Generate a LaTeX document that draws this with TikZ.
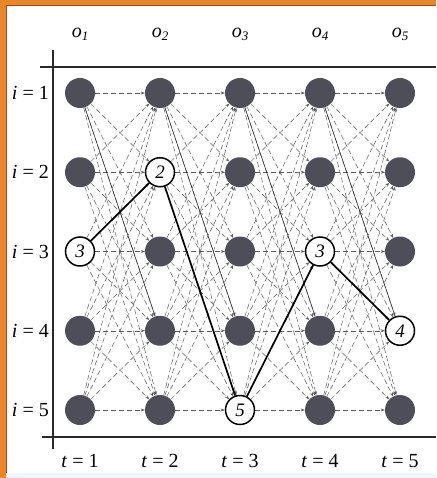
\documentclass[tikz,border=0pt]{standalone}
\usepackage{fontspec}
\setmainfont{Liberation Serif}
\usetikzlibrary{arrows.meta,backgrounds}
\definecolor{dotgray}{HTML}{4E4E58}
\definecolor{edgeorange}{HTML}{E8872A}
\definecolor{edgered}{HTML}{A8431E}
\definecolor{transgray}{HTML}{5A5A5A}
\definecolor{axisgray}{HTML}{2A2A2A}
\begin{document}
\begin{tikzpicture}[x=1pt,y=-1pt,
  state/.style={circle,minimum size=30pt,inner sep=0pt,fill=dotgray},
  pathstate/.style={circle,minimum size=29pt,inner sep=0pt,fill=white,draw=black,line width=1.5pt,font=\fontsize{19}{19}\selectfont\itshape},
  trans/.style={draw=transgray,line width=0.5pt,dash pattern=on 5pt off 3pt,-{Stealth[length=4pt,width=3pt]}},
  thinsolid/.style={draw=axisgray,line width=0.55pt},
  thickpath/.style={draw=black,line width=1.7pt},
  axis/.style={draw=axisgray,line width=1.1pt},
  lab/.style={font=\fontsize{20}{20}\selectfont,inner sep=0pt}]
\useasboundingbox (0,0) rectangle (436,478);
% states
\foreach \t/\p in {1/3,2/2,3/5,4/3,5/4}{
  \foreach \i in {1,...,5}{
    \ifnum\i=\p
      \node[pathstate] (n\t\i) at (80*\t,{93+79.25*(\i-1)}) {\p};
    \else
      \node[state] (n\t\i) at (80*\t,{93+79.25*(\i-1)}) {};
    \fi
  }
}
\begin{scope}[on background layer]
  \fill[white] (0,0) rectangle (436,478);
  % scan border
  \fill[edgeorange] (0,0) rectangle (436,6);
  \fill[edgeorange] (0,0) rectangle (6,478);
  \draw[edgered,line width=1pt] (6,478) -- (6,6) -- (436,6);
  \fill[cyan!8] (6,473) rectangle (436,478);
  % transitions
  \foreach \t in {1,...,4}{
    \pgfmathtruncatemacro\u{\t+1}
    \foreach \i in {1,...,5}{
      \foreach \j in {1,...,5}{
        \draw[trans] (n\t\i) -- (n\u\j);
      }
    }
    \draw[thinsolid] (n\t1) -- (n\u4);
  }
\end{scope}
% axes
\draw[axis] (40,67) -- (436,67);
\draw[axis] (42,437) -- (436,437);
\draw[axis] (53,50) -- (53,449);
% labels
\foreach \t in {1,...,5}{
  \node[lab] (o\t) at (80*\t,34) {\textit{o}\raisebox{-0.35ex}{\fontsize{13}{13}\selectfont\textit{\t}}};
  \node[lab] (b\t) at (80*\t,461) {\textit{t} = \t};
}
\foreach \i in {1,...,5}{
  \node[lab,anchor=east] (l\i) at (49,{93+79.25*(\i-1)}) {\textit{i} = \i};
}
% best path
\draw[thickpath] (n13) -- (n22) -- (n35) -- (n43) -- (n54);
\end{tikzpicture}
\end{document}
